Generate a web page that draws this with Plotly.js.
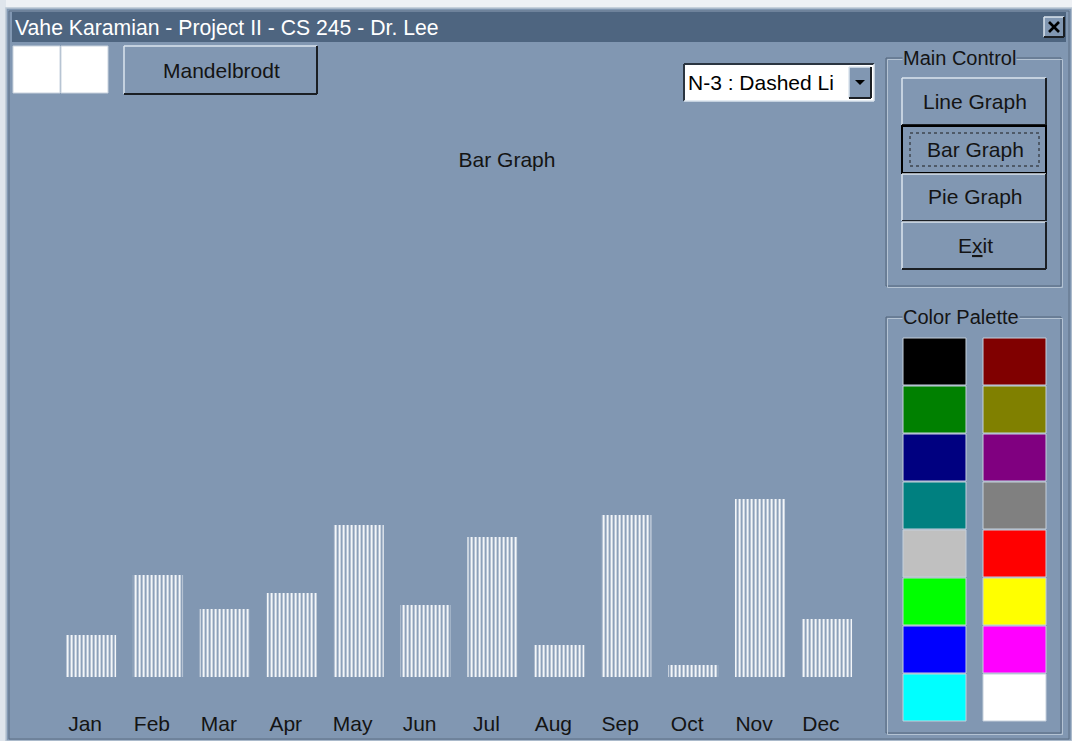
<!DOCTYPE html>
<html>
<head>
<meta charset="utf-8">
<script src="https://cdn.plot.ly/plotly-3.0.1.min.js"></script>
<style>
html,body{margin:0;padding:0;background:#ffffff;}
#chart{width:1072px;height:741px;}
</style>
</head>
<body>
<div id="chart"></div>
<script>
// ---- data ----
const months = ["Jan","Feb","Mar","Apr","May","Jun","Jul","Aug","Sep","Oct","Nov","Dec"];
const values = [42, 102, 68, 84, 152, 72, 140, 32, 162, 12, 178, 58];
const windowTitle = "Vahe Karamian - Project II - CS 245 - Dr. Lee";
const chartTitle = "Bar Graph";
const controlButtons = ["Line Graph", "Bar Graph", "Pie Graph", "E<span style=\"text-decoration:underline\">x</span>it"];
const paletteLeft = ["#000000","#008000","#000080","#008080","#c0c0c0","#00ff00","#0000ff","#00ffff"];
const paletteRight = ["#800000","#808000","#800080","#808080","#ff0000","#ffff00","#ff00ff","#ffffff"];
const dropdownText = "N-3 : Dashed Li";

// ---- helpers ----
const W = 1072, H = 741;
const BG = "#8197b2";
const TITLEBAR = "#4e6580";
const LIGHT = "#dbe4ee";
const DARK = "#1b1f24";
const ETCH_D = "#52647a";
const FONT = "Liberation Sans, Arial, sans-serif";
const FS = 21;
const px = x => x / W;
const py = y => 1 - y / H;
const shapes = [];
const annotations = [];
function rect(x0, y0, x1, y1, fill, lineColor, lw, dash) {
  shapes.push({type: "rect", xref: "paper", yref: "paper", layer: "above",
    x0: px(x0), x1: px(x1), y0: py(y1), y1: py(y0),
    fillcolor: fill || "rgba(0,0,0,0)",
    line: {color: lineColor || "rgba(0,0,0,0)", width: lw || 0, dash: dash || "solid"}});
}
function seg(x0, y0, x1, y1, color, w) {
  shapes.push({type: "line", xref: "paper", yref: "paper", layer: "above",
    x0: px(x0), x1: px(x1), y0: py(y0), y1: py(y1), line: {color: color, width: w || 1}});
}
function txt(x, y, s, opts) {
  opts = opts || {};
  annotations.push({xref: "paper", yref: "paper", x: px(x), y: py(y), text: s, showarrow: false,
    xanchor: opts.xanchor || "center", yanchor: "middle",
    bgcolor: opts.bg || "rgba(0,0,0,0)", borderpad: 0,
    font: {family: FONT, size: opts.size || FS, color: opts.color || "#141414"}});
}
function bevel(x0, y0, x1, y1) {
  rect(x0, y0, x1, y1, BG);
  seg(x0, y0, x1, y0, LIGHT, 1.5);
  seg(x0, y0, x0, y1, LIGHT, 1.5);
  seg(x0, y1, x1, y1, DARK, 2);
  seg(x1, y0, x1, y1, DARK, 2);
}
function groupbox(x0, y0, x1, y1, label) {
  rect(x0, y0, x1, y1, null, ETCH_D, 1);
  rect(x0 + 1.5, y0 + 1.5, x1 + 1.5, y1 + 1.5, null, "#b4c3d3", 1);
  txt(x0 + 16, y0, label, {xanchor: "left", bg: BG, size: 20});
}

// ---- window chrome ----
rect(0, 0, W, 8, "#eef1f5");
rect(0, 0, 6, H, "#dfe5ec");
rect(6, 8, W, H, null, "#b9c6d4", 1.5);
rect(9, 11, W - 3, H - 2, null, "#5d6f84", 1);
rect(12, 12, 1066, 42, TITLEBAR);
txt(14, 28, windowTitle, {xanchor: "left", color: "#ffffff", size: 21.2});
bevel(1044, 17, 1064, 37);
seg(1049, 22, 1059, 32, "#000000", 2.6);
seg(1059, 22, 1049, 32, "#000000", 2.6);

// top-left white boxes
rect(13, 46, 60, 93, "#ffffff", "#c9d3de", 1);
rect(61, 46, 108, 93, "#ffffff", "#c9d3de", 1);

// Mandelbrodt button
bevel(124, 46, 317, 94);
txt(221, 70, "Mandelbrodt");

// dropdown
rect(684, 64, 874, 101, "#ffffff");
seg(684, 64, 874, 64, "#2a3440", 2);
seg(684, 64, 684, 101, "#2a3440", 2);
seg(684, 101, 874, 101, LIGHT, 1.5);
seg(874, 64, 874, 101, LIGHT, 1.5);
bevel(849, 67, 871, 98);
shapes.push({type: "path", xref: "paper", yref: "paper", layer: "above",
  path: `M ${px(855)} ${py(80)} L ${px(865)} ${py(80)} L ${px(860)} ${py(85)} Z`,
  fillcolor: "#000000", line: {width: 0}});
txt(687, 82, dropdownText, {xanchor: "left", color: "#000000"});

// Main Control group
groupbox(886, 58, 1061, 286, "Main Control");
const btnTops = [78, 126, 174, 222];
controlButtons.forEach((label, i) => {
  const y0 = btnTops[i], y1 = y0 + 47;
  bevel(902, y0, 1046, y1);
  if (i === 1) {
    rect(902, y0, 1046, y1, null, "#000000", 2);
    rect(910, y0 + 7, 1039, y1 - 7, null, "#1c1c1c", 1, "dot");
  }
  txt(975, y0 + 23, label);
});

// Color Palette group
groupbox(886, 317, 1061, 733, "Color Palette");
paletteLeft.forEach((c, i) => {
  const y0 = 338 + i * 48;
  rect(903, y0, 966, y0 + 47, c, "#c5d0dc", 1);
});
paletteRight.forEach((c, i) => {
  const y0 = 338 + i * 48;
  rect(983, y0, 1046, y0 + 47, c, "#c5d0dc", 1);
});

// ---- chart ----
const trace = {
  type: "bar",
  x: months,
  y: values,
  marker: {
    color: BG,
    line: {width: 0},
    pattern: {shape: "|", fgcolor: "#f3f6f9", bgcolor: BG, size: 4, solidity: 0.55, fillmode: "replace"}
  },
  hoverinfo: "skip"
};

const layout = {
  width: W, height: H,
  margin: {l: 0, r: 0, t: 0, b: 0, pad: 0},
  paper_bgcolor: BG,
  plot_bgcolor: BG,
  showlegend: false,
  bargap: 0.25,
  title: {text: chartTitle, x: px(507), xanchor: "center", xref: "paper",
    y: py(160), yanchor: "middle", yref: "container",
    font: {family: FONT, size: FS, color: "#141414"}},
  xaxis: {
    domain: [px(57.6), px(860.4)],
    type: "category",
    showgrid: false, zeroline: false, showline: false,
    ticks: "", ticklabelstandoff: 32, ticklabelshift: -6,
    tickfont: {family: FONT, size: FS, color: "#141414"},
    fixedrange: true
  },
  yaxis: {
    domain: [py(677), py(477)],
    range: [0, 200],
    visible: false,
    fixedrange: true
  },
  shapes: shapes,
  annotations: annotations
};

Plotly.newPlot("chart", [trace], layout, {displayModeBar: false, staticPlot: true});
</script>
</body>
</html>
